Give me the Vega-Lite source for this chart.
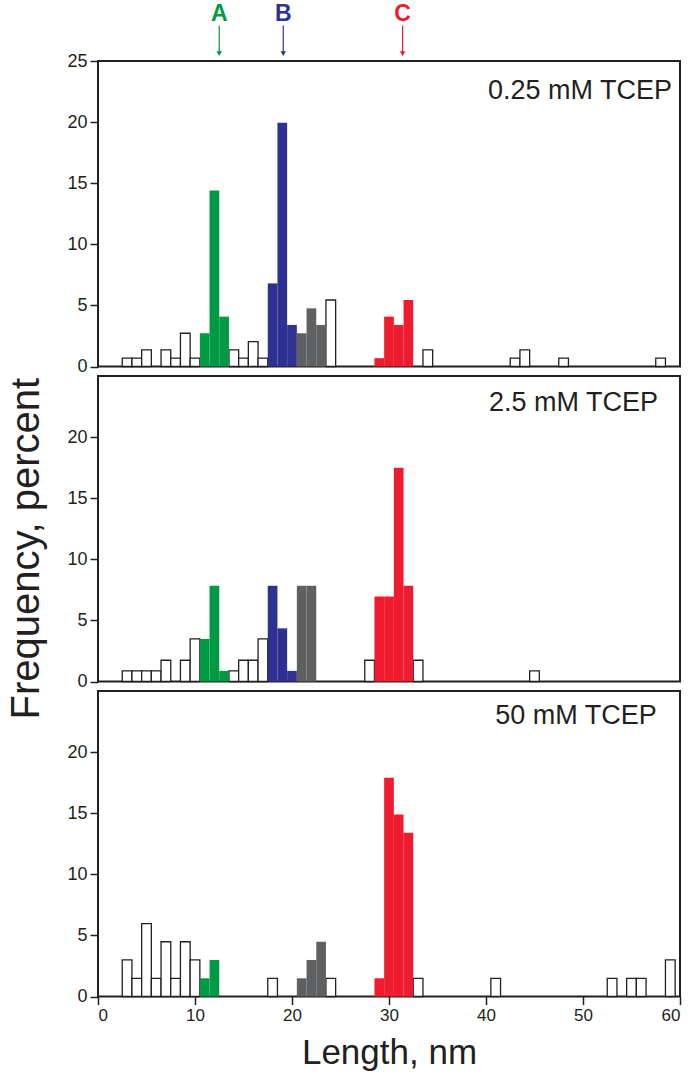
{
  "$schema": "https://vega.github.io/schema/vega-lite/v6.json",
  "padding": {"left": 6, "top": 1, "right": 10, "bottom": 5},
  "spacing": 9,
  "bounds": "flush",
  "title": {"text": "Frequency, percent", "orient": "left", "anchor": "middle", "fontSize": 40, "offset": 19, "dx": -12},
  "config": {
    "font": "Liberation Sans",
    "view": {"stroke": "#231f20", "strokeWidth": 2},
    "axis": {"grid": false, "domain": false, "labelFont": "Liberation Sans", "labelColor": "#231f20", "tickColor": "#231f20", "tickSize": 8, "tickWidth": 1.5, "labelPadding": 3, "titleFont": "Liberation Sans", "titleFontWeight": "normal", "titleColor": "#231f20"},
    "axisY": {"labelFontSize": 18},
    "axisX": {"labelFontSize": 17},
    "title": {"font": "Liberation Sans", "fontWeight": "normal", "color": "#231f20", "fontSize": 27}
  },
  "datasets": {
    "hist": [
      {"panel": "p1", "lo": 2.5, "hi": 3.5, "freq": 0.68, "group": "o"},
      {"panel": "p1", "lo": 3.5, "hi": 4.5, "freq": 0.68, "group": "o"},
      {"panel": "p1", "lo": 4.5, "hi": 5.5, "freq": 1.36, "group": "o"},
      {"panel": "p1", "lo": 6.5, "hi": 7.5, "freq": 1.36, "group": "o"},
      {"panel": "p1", "lo": 7.5, "hi": 8.5, "freq": 0.68, "group": "o"},
      {"panel": "p1", "lo": 8.5, "hi": 9.5, "freq": 2.72, "group": "o"},
      {"panel": "p1", "lo": 9.5, "hi": 10.5, "freq": 0.68, "group": "o"},
      {"panel": "p1", "lo": 10.5, "hi": 11.5, "freq": 2.72, "group": "A"},
      {"panel": "p1", "lo": 11.5, "hi": 12.5, "freq": 14.4, "group": "A"},
      {"panel": "p1", "lo": 12.5, "hi": 13.5, "freq": 4.08, "group": "A"},
      {"panel": "p1", "lo": 13.5, "hi": 14.5, "freq": 1.36, "group": "o"},
      {"panel": "p1", "lo": 14.5, "hi": 15.5, "freq": 0.68, "group": "o"},
      {"panel": "p1", "lo": 15.5, "hi": 16.5, "freq": 2.04, "group": "o"},
      {"panel": "p1", "lo": 16.5, "hi": 17.5, "freq": 0.68, "group": "o"},
      {"panel": "p1", "lo": 17.5, "hi": 18.5, "freq": 6.8, "group": "B"},
      {"panel": "p1", "lo": 18.5, "hi": 19.5, "freq": 19.95, "group": "B"},
      {"panel": "p1", "lo": 19.5, "hi": 20.5, "freq": 3.4, "group": "B"},
      {"panel": "p1", "lo": 20.5, "hi": 21.5, "freq": 2.72, "group": "G"},
      {"panel": "p1", "lo": 21.5, "hi": 22.5, "freq": 4.76, "group": "G"},
      {"panel": "p1", "lo": 22.5, "hi": 23.5, "freq": 3.4, "group": "G"},
      {"panel": "p1", "lo": 23.5, "hi": 24.5, "freq": 5.44, "group": "o"},
      {"panel": "p1", "lo": 28.5, "hi": 29.5, "freq": 0.68, "group": "C"},
      {"panel": "p1", "lo": 29.5, "hi": 30.5, "freq": 4.08, "group": "C"},
      {"panel": "p1", "lo": 30.5, "hi": 31.5, "freq": 3.4, "group": "C"},
      {"panel": "p1", "lo": 31.5, "hi": 32.5, "freq": 5.44, "group": "C"},
      {"panel": "p1", "lo": 33.5, "hi": 34.5, "freq": 1.36, "group": "o"},
      {"panel": "p1", "lo": 42.5, "hi": 43.5, "freq": 0.68, "group": "o"},
      {"panel": "p1", "lo": 43.5, "hi": 44.5, "freq": 1.36, "group": "o"},
      {"panel": "p1", "lo": 47.5, "hi": 48.5, "freq": 0.68, "group": "o"},
      {"panel": "p1", "lo": 57.5, "hi": 58.5, "freq": 0.68, "group": "o"},

      {"panel": "p2", "lo": 2.5, "hi": 3.5, "freq": 0.87, "group": "o"},
      {"panel": "p2", "lo": 3.5, "hi": 4.5, "freq": 0.87, "group": "o"},
      {"panel": "p2", "lo": 4.5, "hi": 5.5, "freq": 0.87, "group": "o"},
      {"panel": "p2", "lo": 5.5, "hi": 6.5, "freq": 0.87, "group": "o"},
      {"panel": "p2", "lo": 6.5, "hi": 7.5, "freq": 1.74, "group": "o"},
      {"panel": "p2", "lo": 8.5, "hi": 9.5, "freq": 1.74, "group": "o"},
      {"panel": "p2", "lo": 9.5, "hi": 10.5, "freq": 3.48, "group": "o"},
      {"panel": "p2", "lo": 10.5, "hi": 11.5, "freq": 3.48, "group": "A"},
      {"panel": "p2", "lo": 11.5, "hi": 12.5, "freq": 7.83, "group": "A"},
      {"panel": "p2", "lo": 12.5, "hi": 13.5, "freq": 0.87, "group": "A"},
      {"panel": "p2", "lo": 13.5, "hi": 14.5, "freq": 0.87, "group": "o"},
      {"panel": "p2", "lo": 14.5, "hi": 15.5, "freq": 1.74, "group": "o"},
      {"panel": "p2", "lo": 15.5, "hi": 16.5, "freq": 1.74, "group": "o"},
      {"panel": "p2", "lo": 16.5, "hi": 17.5, "freq": 3.48, "group": "o"},
      {"panel": "p2", "lo": 17.5, "hi": 18.5, "freq": 7.83, "group": "B"},
      {"panel": "p2", "lo": 18.5, "hi": 19.5, "freq": 4.35, "group": "B"},
      {"panel": "p2", "lo": 19.5, "hi": 20.5, "freq": 0.87, "group": "B"},
      {"panel": "p2", "lo": 20.5, "hi": 21.5, "freq": 7.83, "group": "G"},
      {"panel": "p2", "lo": 21.5, "hi": 22.5, "freq": 7.83, "group": "G"},
      {"panel": "p2", "lo": 27.5, "hi": 28.5, "freq": 1.74, "group": "o"},
      {"panel": "p2", "lo": 28.5, "hi": 29.5, "freq": 6.96, "group": "C"},
      {"panel": "p2", "lo": 29.5, "hi": 30.5, "freq": 6.96, "group": "C"},
      {"panel": "p2", "lo": 30.5, "hi": 31.5, "freq": 17.5, "group": "C"},
      {"panel": "p2", "lo": 31.5, "hi": 32.5, "freq": 7.83, "group": "C"},
      {"panel": "p2", "lo": 32.5, "hi": 33.5, "freq": 1.74, "group": "o"},
      {"panel": "p2", "lo": 44.5, "hi": 45.5, "freq": 0.87, "group": "o"},

      {"panel": "p3", "lo": 2.5, "hi": 3.5, "freq": 2.99, "group": "o"},
      {"panel": "p3", "lo": 3.5, "hi": 4.5, "freq": 1.49, "group": "o"},
      {"panel": "p3", "lo": 4.5, "hi": 5.5, "freq": 5.97, "group": "o"},
      {"panel": "p3", "lo": 5.5, "hi": 6.5, "freq": 1.49, "group": "o"},
      {"panel": "p3", "lo": 6.5, "hi": 7.5, "freq": 4.48, "group": "o"},
      {"panel": "p3", "lo": 7.5, "hi": 8.5, "freq": 1.49, "group": "o"},
      {"panel": "p3", "lo": 8.5, "hi": 9.5, "freq": 4.48, "group": "o"},
      {"panel": "p3", "lo": 9.5, "hi": 10.5, "freq": 2.99, "group": "o"},
      {"panel": "p3", "lo": 10.5, "hi": 11.5, "freq": 1.49, "group": "A"},
      {"panel": "p3", "lo": 11.5, "hi": 12.5, "freq": 2.99, "group": "A"},
      {"panel": "p3", "lo": 17.5, "hi": 18.5, "freq": 1.49, "group": "o"},
      {"panel": "p3", "lo": 20.5, "hi": 21.5, "freq": 1.49, "group": "G"},
      {"panel": "p3", "lo": 21.5, "hi": 22.5, "freq": 2.99, "group": "G"},
      {"panel": "p3", "lo": 22.5, "hi": 23.5, "freq": 4.48, "group": "G"},
      {"panel": "p3", "lo": 23.5, "hi": 24.5, "freq": 1.49, "group": "o"},
      {"panel": "p3", "lo": 28.5, "hi": 29.5, "freq": 1.49, "group": "C"},
      {"panel": "p3", "lo": 29.5, "hi": 30.5, "freq": 17.9, "group": "C"},
      {"panel": "p3", "lo": 30.5, "hi": 31.5, "freq": 14.9, "group": "C"},
      {"panel": "p3", "lo": 31.5, "hi": 32.5, "freq": 13.4, "group": "C"},
      {"panel": "p3", "lo": 32.5, "hi": 33.5, "freq": 1.49, "group": "o"},
      {"panel": "p3", "lo": 40.5, "hi": 41.5, "freq": 1.49, "group": "o"},
      {"panel": "p3", "lo": 52.5, "hi": 53.5, "freq": 1.49, "group": "o"},
      {"panel": "p3", "lo": 54.5, "hi": 55.5, "freq": 1.49, "group": "o"},
      {"panel": "p3", "lo": 55.5, "hi": 56.5, "freq": 1.49, "group": "o"},
      {"panel": "p3", "lo": 58.5, "hi": 59.5, "freq": 2.99, "group": "o"}
    ],
    "peaks": [
      {"group": "A", "length": 12.5},
      {"group": "B", "length": 19.1},
      {"group": "C", "length": 31.4}
    ]
  },
  "vconcat": [
    {
      "width": 582,
      "height": 305.5,
      "title": {"text": "0.25 mM TCEP", "orient": "top", "anchor": "end", "baseline": "alphabetic", "offset": -123, "dx": -8},
      "layer": [
        {
          "data": {"name": "hist"},
          "transform": [{"filter": "datum.panel == 'p1' && datum.group == 'o'"}],
          "mark": {"type": "bar", "fill": "white", "stroke": "#231f20", "strokeWidth": 1.3},
          "encoding": {
            "x": {"field": "lo", "type": "quantitative", "scale": {"domain": [0, 60], "nice": false, "zero": false}, "axis": null},
            "x2": {"field": "hi"},
            "y": {"field": "freq", "type": "quantitative", "scale": {"domain": [0, 25], "nice": false}, "axis": {"values": [0, 5, 10, 15, 20, 25], "title": null}},
            "y2": {"datum": 0}
          }
        },
        {
          "data": {"name": "hist"},
          "transform": [{"filter": "datum.panel == 'p1' && datum.group != 'o'"}],
          "mark": {"type": "bar", "strokeWidth": 0},
          "encoding": {
            "x": {"field": "lo", "type": "quantitative"},
            "x2": {"field": "hi"},
            "y": {"field": "freq", "type": "quantitative"},
            "y2": {"datum": 0},
            "color": {"field": "group", "type": "nominal", "scale": {"domain": ["A", "B", "G", "C"], "range": ["#009a44", "#2e3192", "#5f6062", "#ee1c2e"]}, "legend": null}
          }
        },
        {
          "data": {"name": "peaks"},
          "mark": {"type": "rule", "strokeWidth": 1.2},
          "encoding": {
            "x": {"field": "length", "type": "quantitative"},
            "y": {"datum": 27.9},
            "y2": {"datum": 25.7},
            "color": {"field": "group", "type": "nominal"}
          }
        },
        {
          "data": {"name": "peaks"},
          "mark": {"type": "point", "shape": "triangle-down", "filled": true, "size": 30, "opacity": 1},
          "encoding": {
            "x": {"field": "length", "type": "quantitative"},
            "y": {"datum": 25.6},
            "color": {"field": "group", "type": "nominal"}
          }
        },
        {
          "data": {"name": "peaks"},
          "mark": {"type": "text", "fontSize": 23, "fontWeight": "bold", "baseline": "middle", "align": "center"},
          "encoding": {
            "x": {"field": "length", "type": "quantitative"},
            "y": {"datum": 28.85},
            "text": {"field": "group"},
            "color": {"field": "group", "type": "nominal"}
          }
        }
      ]
    },
    {
      "width": 582,
      "height": 305.5,
      "title": {"text": "2.5 mM TCEP", "orient": "top", "anchor": "end", "baseline": "alphabetic", "offset": -62.4, "dx": -22},
      "layer": [
        {
          "data": {"name": "hist"},
          "transform": [{"filter": "datum.panel == 'p2' && datum.group == 'o'"}],
          "mark": {"type": "bar", "fill": "white", "stroke": "#231f20", "strokeWidth": 1.3},
          "encoding": {
            "x": {"field": "lo", "type": "quantitative", "scale": {"domain": [0, 60], "nice": false, "zero": false}, "axis": null},
            "x2": {"field": "hi"},
            "y": {"field": "freq", "type": "quantitative", "scale": {"domain": [0, 25], "nice": false}, "axis": {"values": [0, 5, 10, 15, 20], "title": null}},
            "y2": {"datum": 0}
          }
        },
        {
          "data": {"name": "hist"},
          "transform": [{"filter": "datum.panel == 'p2' && datum.group != 'o'"}],
          "mark": {"type": "bar", "strokeWidth": 0},
          "encoding": {
            "x": {"field": "lo", "type": "quantitative"},
            "x2": {"field": "hi"},
            "y": {"field": "freq", "type": "quantitative"},
            "y2": {"datum": 0},
            "color": {"field": "group", "type": "nominal", "scale": {"domain": ["A", "B", "G", "C"], "range": ["#009a44", "#2e3192", "#5f6062", "#ee1c2e"]}, "legend": null}
          }
        }
      ]
    },
    {
      "width": 582,
      "height": 305.5,
      "title": {"text": "50 mM TCEP", "orient": "top", "anchor": "end", "baseline": "alphabetic", "offset": -59.5, "dx": -24},
      "layer": [
        {
          "data": {"name": "hist"},
          "transform": [{"filter": "datum.panel == 'p3' && datum.group == 'o'"}],
          "mark": {"type": "bar", "fill": "white", "stroke": "#231f20", "strokeWidth": 1.3},
          "encoding": {
            "x": {"field": "lo", "type": "quantitative", "scale": {"domain": [0, 60], "nice": false, "zero": false}, "axis": {"values": [0, 10, 20, 30, 40, 50, 60], "title": "Length, nm", "titleFontSize": 35, "titlePadding": 12}},
            "x2": {"field": "hi"},
            "y": {"field": "freq", "type": "quantitative", "scale": {"domain": [0, 25], "nice": false}, "axis": {"values": [0, 5, 10, 15, 20], "title": null}},
            "y2": {"datum": 0}
          }
        },
        {
          "data": {"name": "hist"},
          "transform": [{"filter": "datum.panel == 'p3' && datum.group != 'o'"}],
          "mark": {"type": "bar", "strokeWidth": 0},
          "encoding": {
            "x": {"field": "lo", "type": "quantitative"},
            "x2": {"field": "hi"},
            "y": {"field": "freq", "type": "quantitative"},
            "y2": {"datum": 0},
            "color": {"field": "group", "type": "nominal", "scale": {"domain": ["A", "B", "G", "C"], "range": ["#009a44", "#2e3192", "#5f6062", "#ee1c2e"]}, "legend": null}
          }
        }
      ]
    }
  ]
}
